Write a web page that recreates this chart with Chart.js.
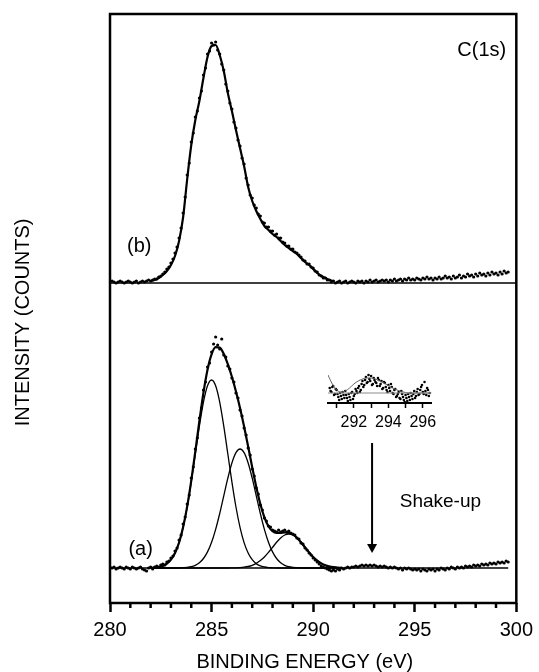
<!DOCTYPE html>
<html>
<head>
<meta charset="utf-8">
<title>C(1s) XPS</title>
<script src="https://cdn.jsdelivr.net/npm/chart.js@4.4.1/dist/chart.umd.min.js"></script>
<style>
  html,body{margin:0;padding:0;background:#fff;}
  #wrap{position:relative;width:539px;height:672px;}
  #main{position:absolute;left:0;top:0;}
  #inset{position:absolute;left:318px;top:366px;}
</style>
</head>
<body>
<div id="wrap">
  <canvas id="main" width="539" height="672"></canvas>
  <canvas id="inset" width="124" height="64"></canvas>
</div>
<script>
// ===== data (intensity in arbitrary counts, each spectrum above its own baseline) =====
const E_START = 280.0, E_STEP = 0.1;          // acquisition grid of the measured points
const OFFSET_A = 35, OFFSET_B = 320;          // vertical offsets of spectra (a) and (b)
const X_MIN = 280, X_MAX = 300;

// measured points, spectrum (a): 280.0 ... 299.6 eV
const countsA = [
  1,0,1,-1,0,1,0,-1,1,0,
  -1,1,0,-1,0,1,-1,-2,-3,0,
  1,-1,1,2,1,3,4,3,6,7,
  10,12,17,20,28,33,44,51,64,73,
  90,101,119,130,150,160,178,186,201,205,
  216,224,231,223,219,229,213,211,202,199,
  190,186,175,170,158,152,140,133,120,113,
  99,92,80,74,63,58,50,47,42,41,
  38,37,36,38,36,37,38,36,37,35,
  34,33,30,29,25,24,20,18,15,13,
  10,8,6,4,2,1,0,-1,-2,-3,
  -2,-3,-1,-2,0,-1,0,1,0,1,
  1,2,1,2,3,2,3,2,3,2,
  3,2,1,2,1,2,1,0,1,0,
  1,0,-1,0,-2,0,-1,0,-1,-2,
  -1,-2,-1,-3,-1,-2,-3,-1,-2,-1,
  -3,-1,-2,0,-1,-2,0,-1,1,0,
  -1,1,0,1,0,2,1,2,1,3,
  2,3,2,4,3,4,3,5,4,5,
  4,6,5,6,5,7,6
];

// measured points, spectrum (b): 280.0 ... 299.6 eV
const countsB = [
  1,2,1,0,1,2,1,0,1,2,
  1,0,1,2,0,1,2,1,2,3,
  2,3,4,4,6,7,9,11,14,16,
  20,24,30,36,45,55,70,86,108,120,
  141,150,166,172,185,192,208,215,229,232,
  240,238,241,233,229,219,213,199,192,180,
  174,161,155,143,137,125,119,105,98,88,
  85,78,75,69,67,61,60,56,56,52,
  52,48,49,45,45,41,40,37,37,34,
  34,31,30,28,26,23,22,19,19,16,
  15,12,11,8,7,5,5,3,3,1,
  2,0,1,2,0,1,2,0,1,2,
  1,0,2,1,2,0,2,1,3,1,
  2,3,1,2,3,2,3,1,3,2,
  4,2,3,4,2,4,3,5,3,4,
  3,5,4,3,5,4,6,4,5,3,
  5,4,6,4,5,7,5,6,4,7,
  5,6,8,5,7,6,9,7,8,6,
  9,7,10,8,9,7,10,8,11,9,
  10,8,11,9,12,10,11
];

// fitted curves, 282.0 ... 291.4 eV every 0.2 eV
const FIT_START = 282.0, FIT_STEP = 0.2;
const fitA = [
  0.2,0.4,1.0,2.1,4.3,8.3,15.0,25.5,41.0,61.6,
  87.4,116.7,147.1,175.4,198.3,213.7,220.8,220.4,214.1,203.8,
  191.2,176.5,160.1,141.5,121.5,100.8,81.1,64.0,50.6,41.7,
  36.9,35.2,35.2,35.7,35.3,33.6,30.3,25.8,20.6,15.6,
  11.0,7.4,4.6,2.7,1.5,0.8,0.4,0.2
];
const peakC1 = [
  0.2,0.4,1.0,2.1,4.3,8.3,15.0,25.4,40.7,61.0,
  86.1,114.0,141.9,165.9,182.2,188.0,182.2,165.9,141.9,114.0,
  86.1,61.0,40.7,25.4,15.0,8.3,4.3,2.1,1.0,0.4,
  0.2,0,0,0,0,0,0,0,0,0,
  0,0,0,0,0,0,0,0
];
const peakC2 = [
  0,0,0,0,0,0,0,0.1,0.3,0.6,
  1.3,2.7,5.2,9.5,16.1,25.7,38.6,54.5,72.2,89.8,
  105.0,115.3,119.0,115.3,105.0,89.8,72.2,54.5,38.6,25.7,
  16.1,9.5,5.2,2.7,1.3,0.6,0.3,0.1,0,0,
  0,0,0,0,0,0,0,0
];
const peakC3 = [
  0,0,0,0,0,0,0,0,0,0,
  0,0,0,0,0,0,0,0,0,0,
  0.1,0.2,0.4,0.8,1.5,2.7,4.6,7.4,11.0,15.6,
  20.6,25.7,30.0,33.0,34.0,33.0,30.0,25.7,20.6,15.6,
  11.0,7.4,4.6,2.7,1.5,0.8,0.4,0.2
];
// fitted envelope of (b), 282.0 ... 291.0 eV every 0.2 eV
const fitB = [
  2,3,5,8,12,18,27,42,66,104,
  138,163,182,205,226,237,238,228,212,190,
  172,153,135,117,96,82,72,64,57,53,
  49,46,42,38,35,32,29,25,21,18,
  14,10,7,5,3,2
];
const baseEnergyA = [280, 299.6];
const baseEnergyB = [280, 300];

// inset: shake-up region of (a), 290.6 ... 296.4 eV every 0.05 eV
const INSET_START = 290.6, INSET_STEP = 0.05, INSET_BASE = 10;
const insetCounts = [
  15,12,11,16,17,8,9,14,
  13,9,6,3,10,7,4,11,8,5,12,8,5,2,9,6,3,10,11,4,
  7,9,14,12,10,15,17,11,13,19,22,16,18,23,26,20,21,28,24,22,
  27,18,19,25,23,21,20,17,25,23,17,19,22,14,15,21,20,16,13,11,
  18,15,12,19,16,10,9,13,14,6,7,9,11,5,4,12,9,6,3,1,
  8,5,2,9,6,3,10,7,4,9,12,5,7,11,14,8,9,13,16,18,
  11,9,21,12,8,15,13,7,10
];
const insetFitEnergy = [290.5,290.75,291,291.25,291.5,291.75,292,292.25,292.5,292.75,293,293.25,293.5,
  293.75,294,294.25,294.5,294.75,295,295.25,295.5,295.75,296,296.25,296.5];
const insetFit = [28,19,13,11,12,15,19,22,24,25,25,24,22,20,17.5,15,13,11.5,10.5,10,10,10,10,10,10];
const insetTicks = [291,292,293,294,295,296];

// ===== annotations (energy / intensity coordinates) =====
const NOTES = [
  {text:'C(1s)',    e:298.30, i:553,  align:'center', base:'middle',     size:20},
  {text:'(b)',      e:281.44, i:356.5,align:'center', base:'middle',     size:20},
  {text:'(a)',      e:281.51, i:54,   align:'center', base:'middle',     size:20},
  {text:'Shake-up', e:294.26, i:96,   align:'left',   base:'alphabetic', size:19}
];
const ARROW = {e:292.9, from:160, to:50};

// ===== helpers =====
const FONT = '"Liberation Sans", Arial, Helvetica, sans-serif';
Chart.defaults.font.family = FONT;
Chart.defaults.color = '#000';
const r2 = v => Math.round(v*100)/100;
const grid = (arr, start, step, off) => arr.map((v,i) => ({x:r2(start+i*step), y:v+off}));
const pair = (xs, v) => xs.map(x => ({x, y:v}));
const dots = (data, r) => ({data, showLine:false, pointRadius:r||1.6, pointHoverRadius:0,
  pointBackgroundColor:'#000', pointBorderWidth:0});
const curve = (data, w, color) => ({data, showLine:true, borderColor:color||'#000', borderWidth:w,
  pointRadius:0, pointHoverRadius:0, cubicInterpolationMode:'monotone', fill:false});

// ===== frame, minor ticks, arrow, labels =====
const decor = {
  id:'decor',
  afterDraw(chart){
    const {ctx, chartArea:a, scales:{x, y}} = chart;
    ctx.save();
    ctx.strokeStyle = '#000'; ctx.fillStyle = '#000';
    ctx.lineWidth = 2.5;
    ctx.strokeRect(a.left, a.top, a.right-a.left, a.bottom-a.top);
    for(const t of x.ticks){
      if(t.value % 5 === 0) continue;
      const px = x.getPixelForValue(t.value);
      ctx.beginPath(); ctx.moveTo(px, a.bottom); ctx.lineTo(px, a.bottom+5); ctx.stroke();
    }
    // arrow pointing to the shake-up feature
    const ax = x.getPixelForValue(ARROW.e), y0 = y.getPixelForValue(ARROW.from), y1 = y.getPixelForValue(ARROW.to);
    ctx.lineWidth = 2;
    ctx.beginPath(); ctx.moveTo(ax, y0); ctx.lineTo(ax, y1-6); ctx.stroke();
    ctx.beginPath(); ctx.moveTo(ax-5, y1-9); ctx.lineTo(ax+5, y1-9); ctx.lineTo(ax, y1); ctx.closePath(); ctx.fill();
    for(const n of NOTES){
      ctx.font = n.size+'px '+FONT; ctx.textAlign = n.align; ctx.textBaseline = n.base;
      ctx.fillText(n.text, x.getPixelForValue(n.e), y.getPixelForValue(n.i));
    }
    ctx.restore();
  }
};

// ===== main chart =====
new Chart(document.getElementById('main'), {
  type:'scatter',
  data:{datasets:[
    curve(pair(baseEnergyA, OFFSET_A), 1.3),
    curve(pair(baseEnergyB, OFFSET_B), 1.3),
    curve(grid(peakC1, FIT_START, FIT_STEP, OFFSET_A), 1.3),
    curve(grid(peakC2, FIT_START, FIT_STEP, OFFSET_A), 1.3),
    curve(grid(peakC3, FIT_START, FIT_STEP, OFFSET_A), 1.3),
    curve(grid(fitA, FIT_START, FIT_STEP, OFFSET_A), 2.2),
    curve(grid(fitB, FIT_START, FIT_STEP, OFFSET_B), 2.2),
    dots(grid(countsA, E_START, E_STEP, OFFSET_A)),
    dots(grid(countsB, E_START, E_STEP, OFFSET_B))
  ]},
  options:{
    responsive:false, animation:false, events:[],
    layout:{padding:{top:14, right:18, bottom:0, left:0}},
    plugins:{legend:{display:false}, tooltip:{enabled:false}},
    scales:{
      x:{
        type:'linear', min:X_MIN, max:X_MAX,
        afterFit:s => { s.height = 69; },
        border:{display:false},
        grid:{drawOnChartArea:false, drawTicks:true, tickLength:9, tickWidth:2.5,
              tickColor:c => (c.tick && c.tick.value % 5 === 0) ? '#000' : 'rgba(0,0,0,0)'},
        ticks:{stepSize:1, autoSkip:false, maxRotation:0, padding:6, font:{size:20},
               callback:v => v % 5 === 0 ? v : ''},
        title:{display:true, text:'BINDING ENERGY (eV)   ', font:{size:20, lineHeight:1}, padding:{top:0, bottom:0}}
      },
      y:{
        min:0, max:589,
        afterFit:s => { s.width = 110; },
        border:{display:false}, grid:{display:false}, ticks:{display:false},
        title:{display:true, text:'INTENSITY (COUNTS)     ', font:{size:20, lineHeight:1}, padding:{top:13, bottom:0}}
      }
    }
  },
  plugins:[decor]
});

// ===== inset: shake-up region =====
new Chart(document.getElementById('inset'), {
  type:'scatter',
  data:{datasets:[
    curve(pair([290.5, 296.5], INSET_BASE), 1, '#8a8a8a'),
    curve(insetFitEnergy.map((e,i) => ({x:e, y:insetFit[i]})), 1, '#666'),
    Object.assign(dots(grid(insetCounts, INSET_START, INSET_STEP, 0), 1.3), {clip:false})
  ]},
  options:{
    responsive:false, animation:false, events:[],
    layout:{padding:{left:10, right:10, top:6, bottom:0}},
    plugins:{legend:{display:false}, tooltip:{enabled:false}},
    scales:{
      x:{
        type:'linear', min:290.5, max:296.5,
        afterBuildTicks:s => { s.ticks = insetTicks.map(v => ({value:v})); },
        afterFit:s => { s.height = 27; },
        border:{display:true, width:2, color:'#000'},
        grid:{drawOnChartArea:false, tickLength:5, tickWidth:1.5, tickColor:'#000'},
        ticks:{autoSkip:false, maxRotation:0, padding:5, font:{size:16},
               callback:v => v % 2 === 0 ? v : ''}
      },
      y:{display:false, min:0, max:31}
    }
  }
});
</script>
</body>
</html>
